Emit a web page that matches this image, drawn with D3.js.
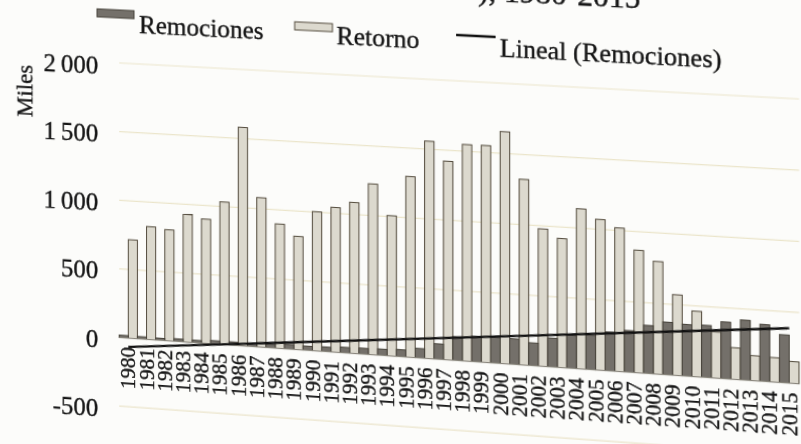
<!DOCTYPE html>
<html>
<head>
<meta charset="utf-8">
<script src="https://cdn.jsdelivr.net/npm/d3@7"></script>
<style>
  html, body { margin: 0; padding: 0; width: 801px; height: 444px; overflow: hidden; background: #fcfcfa; }
  /* the printed page sits slightly tilted in perspective */
  #page {
    position: absolute; left: 0; top: 0; width: 801px; height: 444px;
    transform-origin: 0 0;
    transform: matrix3d(0.9934, 0.0495, 0, -0.000055,
                        0, 1, 0, 0,
                        0, 0, 1, 0,
                        0.792, -5.94, 0, 1.0066);
  }
  svg { display: block; overflow: visible; }
  text { font-family: "Liberation Serif", "Times New Roman", serif; fill: #161616; stroke: #161616; stroke-width: 0.35px; }
</style>
</head>
<body>
<div id="page"><svg id="chart" width="801" height="444"></svg></div>
<script>
// Removals and returns, thousands of events per year
const years = ["1980","1981","1982","1983","1984","1985","1986","1987","1988","1989",
               "1990","1991","1992","1993","1994","1995","1996","1997","1998","1999",
               "2000","2001","2002","2003","2004","2005","2006","2007","2008","2009",
               "2010","2011","2012","2013","2014","2015"];
const remociones = [18, 17, 15, 19, 18, 24, 24, 24, 26, 34,
                    30, 33, 40, 42, 45, 50, 68, 110, 170, 180,
                    185, 182, 162, 205, 235, 245, 275, 295, 340, 372,
                    365, 368, 400, 422, 400, 337];
const retorno = [717, 821, 807, 926, 901, 1033, 1581, 1080, 898, 817,
                 1003, 1042, 1086, 1227, 1007, 1296, 1557, 1421, 1548, 1549,
                 1655, 1323, 978, 918, 1137, 1070, 1018, 868, 797, 570,
                 463, 326, 223, 176, 172, 153];
const yTicks = [-500, 0, 500, 1000, 1500, 2000];
const seriesNames = ["Remociones", "Retorno", "Lineal (Remociones)"];
const axisTitle = "Miles";
const titleTail = "), 1980-2015";

(function draw() {
  const svg = d3.select("#chart");

  const plotLeft = 119.2, plotRight = 774.6, plotTop = 63, plotBottom = 406.2;

  const x = d3.scaleBand().domain(years).range([plotLeft, plotRight]).paddingInner(0).paddingOuter(0);
  const y = d3.scaleLinear().domain([-500, 2000]).range([plotBottom, plotTop]);
  const bw = x.bandwidth();

  const locale = d3.formatLocale({ decimal: ",", thousands: "\u2009", grouping: [3], currency: ["$", ""], minus: "-" });
  const fmt = locale.format(",");

  // gridlines
  svg.append("g")
    .selectAll("line")
    .data(yTicks.filter(d => d !== 0))
    .join("line")
    .attr("x1", plotLeft).attr("x2", plotRight)
    .attr("y1", d => y(d)).attr("y2", d => y(d))
    .attr("stroke", "#ebe5cb").attr("stroke-width", 1.2);

  // y axis labels
  const yAxis = svg.append("g")
    .attr("transform", `translate(${plotLeft - 21},0)`)
    .call(d3.axisLeft(y).tickValues(yTicks).tickSize(0).tickPadding(0).tickFormat(fmt));
  yAxis.select(".domain").remove();
  yAxis.selectAll("text")
    .attr("dy", null)
    .attr("y", 11)
    .style("font-size", "25px")
    .style("font-family", "'Liberation Serif', serif")
    .attr("fill", "#161616");

  // axis title
  svg.append("text")
    .attr("transform", "translate(32,96) rotate(-90)")
    .attr("text-anchor", "middle")
    .style("font-size", "23px")
    .text(axisTitle);

  // bars: removals (dark) on the left half of each year, returns (light) on the right half
  svg.append("g")
    .selectAll("rect")
    .data(years.map((yr, i) => ({ yr, v: retorno[i] })))
    .join("rect")
    .attr("x", d => x(d.yr) + bw / 2)
    .attr("width", bw / 2)
    .attr("y", d => y(d.v))
    .attr("height", d => y(0) - y(d.v))
    .attr("fill", "#dcd9ce")
    .attr("stroke", "#544c3e")
    .attr("stroke-width", 1);

  svg.append("g")
    .selectAll("rect")
    .data(years.map((yr, i) => ({ yr, v: remociones[i] })))
    .join("rect")
    .attr("x", d => x(d.yr))
    .attr("width", bw / 2)
    .attr("y", d => y(d.v))
    .attr("height", d => y(0) - y(d.v))
    .attr("fill", "#74706a")
    .attr("stroke", "#47433b")
    .attr("stroke-width", 1);

  // zero axis line
  svg.append("line")
    .attr("x1", plotLeft).attr("x2", plotRight)
    .attr("y1", y(0)).attr("y2", y(0))
    .attr("stroke", "#8d8a80").attr("stroke-width", 1);

  // x axis labels, rotated
  const xAxis = svg.append("g")
    .attr("transform", `translate(0,${y(0)})`)
    .call(d3.axisBottom(x).tickSize(0).tickPadding(0));
  xAxis.select(".domain").remove();
  xAxis.selectAll("text")
    .attr("transform", "rotate(-90)")
    .attr("text-anchor", "end")
    .attr("x", -9)
    .attr("y", 0)
    .attr("dy", "0.34em")
    .style("font-size", "21px")
    .style("font-family", "'Liberation Serif', serif")
    .attr("fill", "#161616");

  // linear trend of removals (least squares over year index)
  const n = remociones.length;
  const idx = d3.range(n);
  const mx = d3.mean(idx);
  const my = d3.mean(remociones);
  const slope = d3.sum(idx, i => (i - mx) * (remociones[i] - my)) / d3.sum(idx, i => (i - mx) ** 2);
  const intercept = my - slope * mx;
  const trend = [0, n - 1].map(i => ({ yr: years[i], v: intercept + slope * i }));
  svg.append("path")
    .datum(trend)
    .attr("d", d3.line().x(d => x(d.yr) + bw / 2).y(d => y(d.v)))
    .attr("stroke", "#111").attr("stroke-width", 2.3).attr("fill", "none");

  // legend
  const lg = svg.append("g");
  lg.append("rect").attr("x", 97).attr("y", 10).attr("width", 37).attr("height", 8)
    .attr("fill", "#74706a").attr("stroke", "#47433b").attr("stroke-width", 1);
  lg.append("text").attr("x", 139).attr("y", 32).style("font-size", "25px").text(seriesNames[0]);
  lg.append("rect").attr("x", 293).attr("y", 13).attr("width", 37).attr("height", 8)
    .attr("fill", "#dcd9ce").attr("stroke", "#544c3e").attr("stroke-width", 1);
  lg.append("text").attr("x", 334).attr("y", 33).style("font-size", "25px").text(seriesNames[1]);
  lg.append("line").attr("x1", 450).attr("x2", 488).attr("y1", 18).attr("y2", 18)
    .attr("stroke", "#111").attr("stroke-width", 2.3);
  lg.append("text").attr("x", 492).attr("y", 37).style("font-size", "25px").text(seriesNames[2]);

  // end of the figure title, running off the top edge
  svg.append("text")
    .attr("x", 626).attr("y", -17)
    .attr("text-anchor", "end")
    .style("font-size", "30px")
    .text(titleTail);
})();
</script>
</body>
</html>
